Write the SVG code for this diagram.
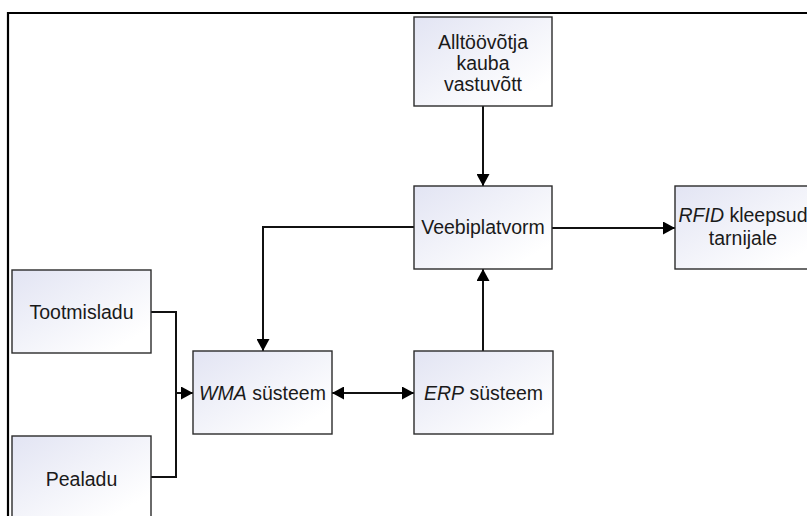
<svg xmlns="http://www.w3.org/2000/svg" width="807" height="516" viewBox="0 0 807 516">
  <style>
    .box { fill: url(#boxFill); stroke: #2b2b2b; stroke-width: 1.4; }
    .lbl { font-family: "Liberation Sans", Arial, sans-serif; font-size: 19.5px; fill: #1a1a1a; text-anchor: middle; }
    .it { font-style: italic; }
    .wire { fill: none; stroke: #111; stroke-width: 2; }
    .frame { fill: none; stroke: #000; stroke-width: 2.2; }
  </style>
  <defs>
    <linearGradient id="boxFill" x1="0" y1="0" x2="1" y2="1">
      <stop offset="0" stop-color="#e2e4f3"/>
      <stop offset="0.85" stop-color="#ffffff"/>
    </linearGradient>
    <marker id="arrow" markerUnits="userSpaceOnUse" markerWidth="13" markerHeight="13" refX="12" refY="6.5" orient="auto-start-reverse">
      <path d="M0,0 L12,6.5 L0,13 Z" fill="#000"/>
    </marker>
  </defs>

  <!-- page frame -->
  <path class="frame" d="M8,516 L8,13 L807,13"/>

  <!-- connectors -->
  <g id="connectors">
    <path class="wire" d="M483,106 L483,186" marker-end="url(#arrow)"/>
    <path class="wire" d="M552,228 L675,228" marker-end="url(#arrow)"/>
    <path class="wire" d="M414,227 L263,227 L263,351" marker-end="url(#arrow)"/>
    <path class="wire" d="M483,351 L483,269" marker-end="url(#arrow)"/>
    <path class="wire" d="M332,393 L414,393" marker-start="url(#arrow)" marker-end="url(#arrow)"/>
    <path class="wire" d="M151,312 L176,312 L176,393 L193,393" marker-end="url(#arrow)"/>
    <path class="wire" d="M151,477 L176,477 L176,393"/>
  </g>

  <!-- nodes -->
  <g id="alltoovotja">
    <rect class="box" x="414" y="17" width="138" height="89"/>
    <text class="lbl" x="483" y="49">Alltöövõtja</text>
    <text class="lbl" x="483" y="70">kauba</text>
    <text class="lbl" x="483" y="91">vastuvõtt</text>
  </g>
  <g id="veebiplatvorm">
    <rect class="box" x="414" y="186" width="138" height="83"/>
    <text class="lbl" x="483" y="234">Veebiplatvorm</text>
  </g>
  <g id="rfid">
    <rect class="box" x="675" y="186" width="144" height="83"/>
    <text class="lbl" x="743" y="222" font-size="19"><tspan class="it">RFID</tspan> kleepsud</text>
    <text class="lbl" x="743" y="245">tarnijale</text>
  </g>
  <g id="tootmisladu">
    <rect class="box" x="12" y="270" width="139" height="83"/>
    <text class="lbl" x="81.5" y="319">Tootmisladu</text>
  </g>
  <g id="pealadu">
    <rect class="box" x="12" y="436" width="139" height="83"/>
    <text class="lbl" x="81.5" y="486">Pealadu</text>
  </g>
  <g id="wma">
    <rect class="box" x="193" y="351" width="139" height="83"/>
    <text class="lbl" x="262.5" y="400"><tspan class="it">WMA</tspan> süsteem</text>
  </g>
  <g id="erp">
    <rect class="box" x="414" y="351" width="139" height="83"/>
    <text class="lbl" x="483.5" y="400"><tspan class="it">ERP</tspan> süsteem</text>
  </g>
</svg>
